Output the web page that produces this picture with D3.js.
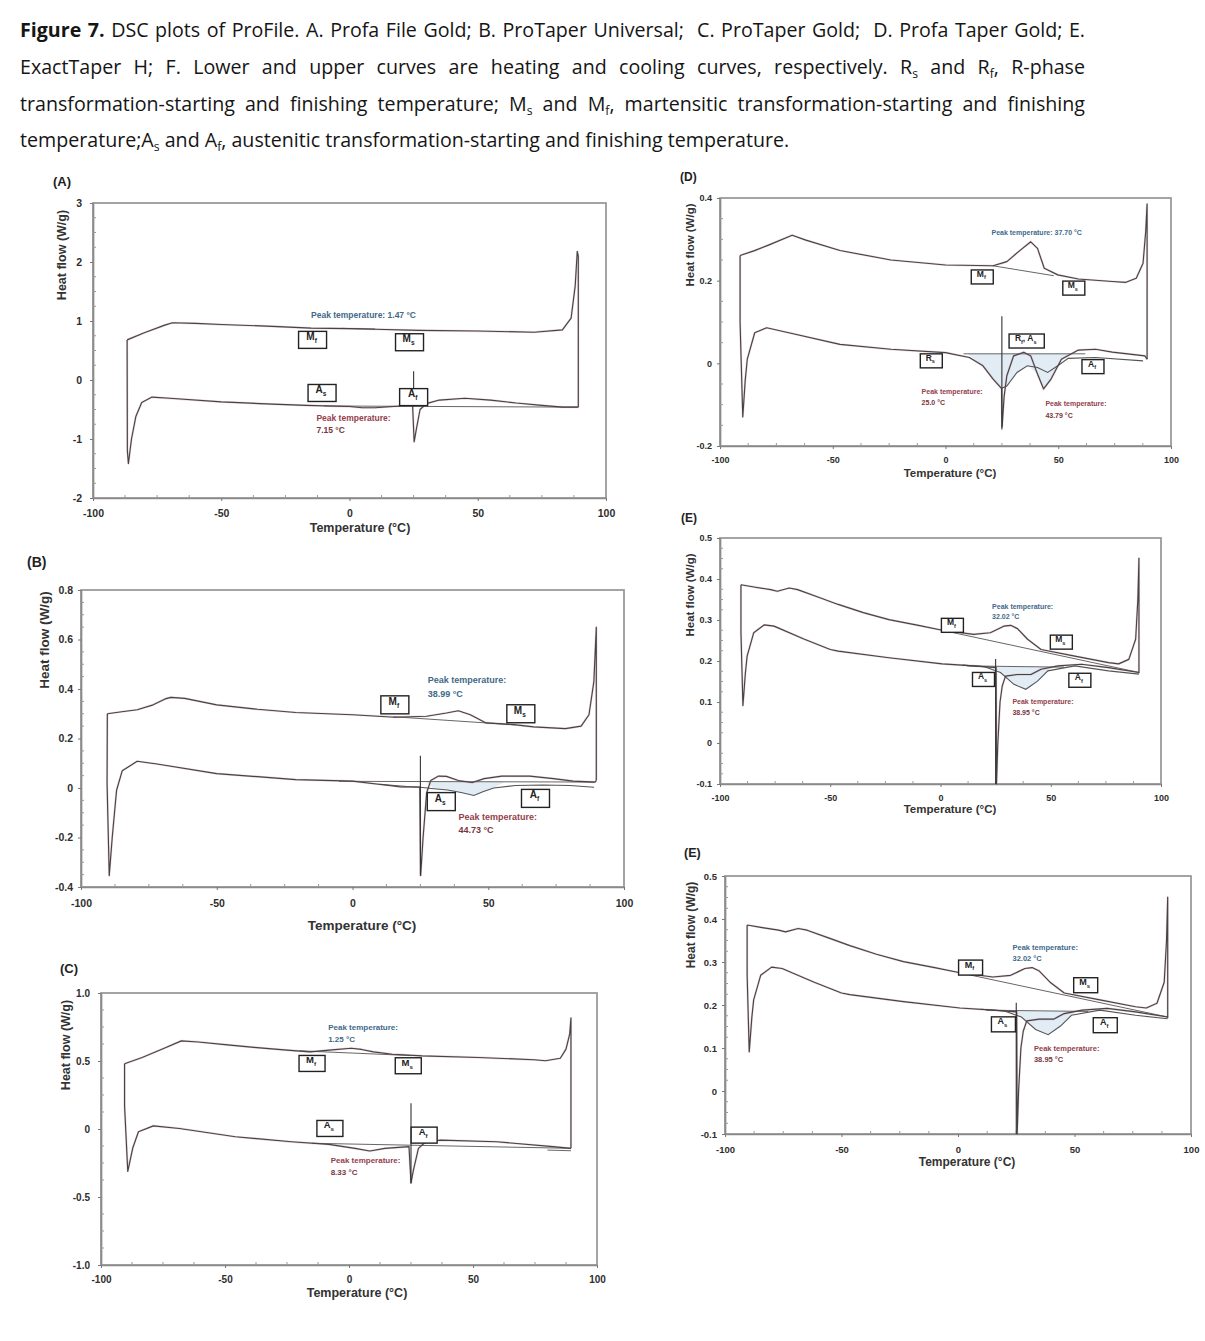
<!DOCTYPE html>
<html><head><meta charset="utf-8">
<script src="https://cdn.jsdelivr.net/npm/d3@7"></script>
<style>
html,body{margin:0;padding:0;background:#fff;}
body{width:1205px;height:1341px;position:relative;overflow:hidden;}
.cap{position:absolute;left:20px;font-family:"Open Sans",sans-serif;color:#151515;line-height:22px;white-space:nowrap;z-index:2;}
.cap.j{width:1065px;text-align:justify;text-align-last:justify;}
.cap sub{font-size:0.62em;vertical-align:-0.3em;line-height:0;}
svg{position:absolute;left:0;top:0;z-index:1;}
</style></head><body>
<svg id="fig" width="1205" height="1341"></svg>
<script>
// ---------------- caption ----------------
const captionLines = [
  '<b>Figure 7.</b> DSC plots of ProFile. A. Profa File Gold; B. ProTaper Universal;&nbsp; C. ProTaper Gold;&nbsp; D. Profa Taper Gold; E.',
  'ExactTaper H; F. Lower and upper curves are heating and cooling curves, respectively. R<sub>s</sub> and R<sub>f</sub>, R-phase',
  'transformation-starting and finishing temperature; M<sub>s</sub> and M<sub>f</sub>, martensitic transformation-starting and finishing',
  'temperature;A<sub>s</sub> and A<sub>f</sub>, austenitic transformation-starting and finishing temperature.'
];

// ---------------- tick values ----------------
const xTicks = [-100, -50, 0, 50, 100];
const A_yTicks = [-2, -1, 0, 1, 2, 3];
const B_yTicks = [-0.4, -0.2, 0, 0.2, 0.4, 0.6, 0.8];
const C_yTicks = [-1.0, -0.5, 0, 0.5, 1.0];
const D_yTicks = [-0.2, 0, 0.2, 0.4];
const E_yTicks = [-0.1, 0, 0.1, 0.2, 0.3, 0.4, 0.5];

// ---------------- Panel A: Profa File Gold ----------------
const A_cool = [[-86.7,0.68],[-80,0.8],[-72,0.93],[-69,0.97],[-60,0.96],[-50,0.94],[-30,0.91],[-15,0.88],[0,0.87],[10,0.86],[27,0.84],[50,0.83],[72,0.81],[83,0.85],[86.4,1.05],[88,1.6],[88.8,2.18],[89.2,2.1],[89.2,-0.46]];
const A_heat = [[-86.7,0.68],[-86.6,-1.2],[-86.2,-1.42],[-85,-1.0],[-83.3,-0.62],[-81,-0.38],[-77,-0.29],[-70,-0.31],[-50,-0.37],[-30,-0.41],[-17,-0.43],[0,-0.45],[5,-0.47],[10,-0.47],[20,-0.44],[24.6,-0.43],[25.2,-1.05],[26,-0.85],[27.5,-0.5],[30,-0.4],[35,-0.34],[45,-0.31],[55,-0.34],[65,-0.39],[75,-0.43],[83,-0.46],[89.2,-0.46]];
const A_heat2 = [];
const A_base = [[[-10,-0.44],[89,-0.46]],[[-3,0.875],[10,0.865]]];
const A_shade = [];
const A_cursor = [25, 0.15, -0.45];
const A_boxes = [{seg:[["M","f"]],x:-14.4,y:0.68},{seg:[["M","s"]],x:23.4,y:0.64},{seg:[["A","s"]],x:-10.7,y:-0.22},{seg:[["A","f"]],x:25,y:-0.29}];
const A_notes = [{t:["Peak temperature: 1.47 °C"],x:-15,y:[1.1],c:"blue"},{t:["Peak temperature:","7.15 °C"],x:-12.9,y:[-0.64,-0.84],c:"red"}];

// ---------------- Panel B: ProTaper Universal ----------------
const B_cool = [[-90.3,0.30],[-85,0.308],[-79.3,0.316],[-73.4,0.336],[-69,0.36],[-66.9,0.366],[-61.8,0.362],[-50,0.336],[-35,0.318],[-20.9,0.305],[0,0.296],[15.6,0.286],[27.3,0.29],[34.6,0.303],[39,0.312],[43.4,0.296],[49.2,0.263],[59.4,0.256],[66.7,0.247],[78.4,0.24],[84.2,0.25],[87.1,0.296],[88.9,0.43],[89.8,0.65],[89.8,0.03]];
const B_heat = [[-90.3,0.30],[-90.4,0.02],[-89.6,-0.354],[-88.5,-0.2],[-86.9,-0.009],[-84.8,0.07],[-79.3,0.108],[-72,0.097],[-50,0.058],[-20.9,0.034],[0,0.028],[12.7,0.011],[17.8,0.004],[24.8,0.004],[25.1,-0.354],[26,-0.2],[27.3,-0.02],[28.8,0.03],[31.7,0.048],[34.6,0.047],[39,0.03],[44.1,0.022],[48.5,0.038],[55,0.048],[65.3,0.048],[74,0.038],[81.3,0.028],[89.3,0.024],[89.8,0.03]];
const B_heat2 = [[10,0.015],[20,0.006],[25,0.003],[30,-0.003],[35,-0.008],[40,-0.018],[44.7,-0.03],[48,-0.015],[52,0.0],[60,0.01],[70,0.012],[80,0.01],[89,0.003]];
const B_base = [[[15,0.288],[60,0.255]],[[-5,0.027],[89,0.024]]];
const B_shade = [[27,0.025],[30,-0.003],[35,-0.008],[40,-0.018],[44.7,-0.03],[48,-0.015],[52,0.0],[56,0.024]];
const B_cursor = [25, 0.13, -0.354];
const B_boxes = [{seg:[["M","f"]],x:15.6,y:0.336},{seg:[["M","s"]],x:62,y:0.30},{seg:[["A","s"]],x:32.7,y:-0.055},{seg:[["A","f"]],x:67.4,y:-0.042}];
const B_notes = [{t:["Peak temperature:","38.99 °C"],x:27.7,y:[0.435,0.382],c:"blue"},{t:["Peak temperature:","44.73 °C"],x:39,y:[-0.115,-0.168],c:"red"}];

// ---------------- Panel C: ProTaper Gold ----------------
const C_cool = [[-90.5,0.48],[-83.4,0.526],[-75,0.59],[-67.6,0.648],[-60.8,0.64],[-50,0.62],[-38.3,0.6],[-25,0.58],[-15.7,0.567],[-8,0.58],[0.9,0.594],[5,0.585],[9.9,0.567],[17.5,0.55],[29.5,0.538],[52,0.526],[74.7,0.509],[79.2,0.502],[85.2,0.52],[87.5,0.587],[89,0.7],[89.5,0.818],[89.5,-0.142]];
const C_heat = [[-90.5,0.48],[-90.5,0.17],[-89.2,-0.312],[-87.2,-0.14],[-84.9,-0.02],[-78.9,0.023],[-68.4,0.004],[-45.8,-0.057],[-23.2,-0.094],[-8.1,-0.113],[2.4,-0.142],[8.4,-0.162],[14.5,-0.142],[24.2,-0.13],[25,-0.397],[26,-0.3],[28,-0.142],[31,-0.094],[37,-0.082],[59.6,-0.094],[82.2,-0.13],[89.5,-0.142]];
const C_heat2 = [];
const C_base = [[[-20,0.575],[25,0.54]],[[-15,-0.105],[89.5,-0.142]],[[80,-0.155],[89.5,-0.16]]];
const C_shade = [];
const C_cursor = [25, 0.19, -0.40];
const C_boxes = [{seg:[["M","f"]],x:-14.9,y:0.482},{seg:[["M","s"]],x:23.9,y:0.465},{seg:[["A","s"]],x:-7.7,y:0.004},{seg:[["A","f"]],x:30.3,y:-0.045}];
const C_notes = [{t:["Peak temperature:","1.25 °C"],x:-8.4,y:[0.752,0.66],c:"blue"},{t:["Peak temperature:","8.33 °C"],x:-7.4,y:[-0.227,-0.317],c:"red"}];

// ---------------- Panel D: Profa Taper Gold ----------------
const D_cool = [[-91.1,0.261],[-85,0.272],[-78.5,0.286],[-68,0.31],[-61.9,0.298],[-46.8,0.273],[-24.2,0.25],[0,0.238],[21.1,0.236],[27.2,0.246],[33.2,0.274],[37.8,0.294],[40.8,0.278],[43.8,0.23],[49.8,0.214],[58.9,0.204],[74,0.198],[80,0.196],[84.6,0.206],[87.6,0.242],[88.8,0.32],[89.4,0.386],[89.4,0.01]];
const D_heat = [[-91.1,0.261],[-91.1,0.1],[-89.9,-0.13],[-88.8,-0.04],[-87.9,0.01],[-84.6,0.074],[-79.3,0.086],[-69.5,0.074],[-46.8,0.046],[-24.2,0.034],[0,0.026],[10.6,0.014],[16.6,-0.006],[21.1,-0.038],[24.9,-0.061],[25.1,-0.154],[26,-0.08],[27.2,-0.03],[30.2,0.018],[34.7,0.027],[37.8,0.018],[40.8,-0.026],[43.5,-0.062],[46.8,-0.038],[51.4,0.01],[58.9,0.032],[66.5,0.034],[74,0.027],[88.4,0.018],[89.4,0.01]];
const D_heat2 = [[25,-0.06],[27.2,-0.055],[31.7,-0.022],[36.3,-0.006],[40.8,-0.01],[45.3,-0.022],[49.8,-0.006],[54.4,0.012],[66.5,0.014],[87.6,0.006]];
const D_base = [[[21,0.236],[48,0.212]],[[8,0.023],[62,0.023]]];
const D_shade = [[10,0.022],[16.6,-0.006],[21.1,-0.038],[24.9,-0.061],[27.2,-0.055],[31.7,-0.022],[36.3,-0.006],[40.8,-0.026],[43.5,-0.062],[46.8,-0.038],[51.4,0.01],[55,0.022]];
const D_cursor = [25, 0.114, -0.16];
const D_boxes = [{seg:[["M","f"]],x:16.3,y:0.209},{seg:[["M","s"]],x:56.9,y:0.182},{seg:[["R","s"]],x:-6.3,y:0.006},{seg:[["R","f"],[", A","s"]],x:36,y:0.054,w:1.6},{seg:[["A","f"]],x:65.4,y:-0.008}];
const D_notes = [{t:["Peak temperature: 37.70 °C"],x:20.4,y:[0.317],c:"blue"},{t:["Peak temperature:","25.0 °C"],x:-10.6,y:[-0.068,-0.096],c:"red"},{t:["Peak temperature:","43.79 °C"],x:44.3,y:[-0.098,-0.126],c:"red"}];

// ---------------- Panel E: ExactTaper ----------------
const E_cool = [[-90.5,0.386],[-84,0.38],[-77,0.374],[-74,0.37],[-68.6,0.378],[-64.8,0.374],[-55,0.355],[-46.4,0.338],[-35,0.318],[-23.4,0.301],[-10,0.287],[0.8,0.275],[15,0.265],[22.6,0.269],[28.7,0.285],[31.8,0.287],[34.9,0.279],[39.5,0.253],[45.6,0.228],[60.9,0.212],[76.2,0.196],[80.8,0.193],[85.4,0.204],[88.5,0.253],[89.5,0.35],[90,0.451],[90,0.17]];
const E_heat = [[-90.5,0.386],[-90.5,0.27],[-89.6,0.091],[-88.5,0.17],[-87.7,0.212],[-84.7,0.269],[-80,0.288],[-75.5,0.285],[-61.7,0.253],[-50,0.228],[-46.4,0.224],[-23.4,0.208],[0.8,0.193],[15,0.188],[25.2,0.184],[25.4,-0.1],[26,0.0],[27,0.1],[28,0.139],[29.5,0.163],[34.9,0.167],[41,0.167],[45.6,0.18],[53.3,0.188],[64,0.192],[76.2,0.184],[90,0.172]];
const E_heat2 = [[10,0.19],[20,0.186],[27.2,0.172],[33.3,0.143],[38.7,0.131],[44,0.151],[48.7,0.176],[60.9,0.188],[76.2,0.176],[90,0.168]];
const E_base = [[[5,0.27],[90,0.172]],[[12,0.188],[56,0.185]]];
const E_shade = [[24,0.186],[27.2,0.172],[33.3,0.143],[38.7,0.131],[44,0.151],[48.7,0.176],[51,0.186]];
const E_cursor = [25, 0.205, -0.1];
const E_boxes = [{seg:[["M","f"]],x:5.4,y:0.287},{seg:[["M","s"]],x:54.8,y:0.246},{seg:[["A","s"]],x:19.5,y:0.155},{seg:[["A","f"]],x:63.2,y:0.153}];
const E_notes = [{t:["Peak temperature:","32.02 °C"],x:23.4,y:[0.334,0.308],c:"blue"},{t:["Peak temperature:","38.95 °C"],x:32.6,y:[0.1,0.074],c:"red"}];

// ---------------- layout (positions / styles only) ----------------
const panels = [
  {id:"(A)", left:93, right:606, top:203, bottom:498, yDom:[-2,3], yTicks:A_yTicks, dec:0,
   lab:[53,186], yt:[62,255], xt:[360,532], tick:10.5, title:12.5, ann:8.5, bfs:10, bw:28, bh:17, xPad:9, yPad:8,
   cool:A_cool, heat:A_heat, heat2:A_heat2, base:A_base, shade:A_shade, shadeY:0, cursor:A_cursor, boxes:A_boxes, notes:A_notes},
  {id:"(B)", left:81, right:624, top:590, bottom:887, yDom:[-0.4,0.8], yTicks:B_yTicks, dec:1,
   lab:[27,567], yt:[44,640], xt:[362,930], tick:10.5, title:13.5, ann:9, bfs:10, bw:28, bh:18, xPad:10, yPad:5,
   cool:B_cool, heat:B_heat, heat2:B_heat2, base:B_base, shade:B_shade, shadeY:0.025, cursor:B_cursor, boxes:B_boxes, notes:B_notes},
  {id:"(C)", left:101, right:597, top:993, bottom:1265, yDom:[-1,1], yTicks:C_yTicks, dec:1,
   lab:[60,973], yt:[66,1045], xt:[357,1297], tick:10, title:12.5, ann:8, bfs:9.5, bw:26, bh:16, xPad:8, yPad:8,
   cool:C_cool, heat:C_heat, heat2:C_heat2, base:C_base, shade:C_shade, shadeY:0, cursor:C_cursor, boxes:C_boxes, notes:C_notes},
  {id:"(D)", left:720, right:1171, top:198, bottom:446, yDom:[-0.2,0.4], yTicks:D_yTicks, dec:1,
   lab:[680,181], yt:[690,245], xt:[950,477], tick:9, title:11.5, ann:7, bfs:8.5, bw:22, bh:14, xPad:8, yPad:5,
   cool:D_cool, heat:D_heat, heat2:D_heat2, base:D_base, shade:D_shade, shadeY:0.023, cursor:D_cursor, boxes:D_boxes, notes:D_notes},
  {id:"(E)", left:720, right:1161, top:538, bottom:784, yDom:[-0.1,0.5], yTicks:E_yTicks, dec:1,
   lab:[681,522], yt:[690,595], xt:[950,813], tick:9, title:11.5, ann:7, bfs:8.5, bw:22, bh:14, xPad:8, yPad:5,
   cool:E_cool, heat:E_heat, heat2:E_heat2, base:E_base, shade:E_shade, shadeY:0.186, cursor:E_cursor, boxes:E_boxes, notes:E_notes},
  {id:"(E)", left:725, right:1191, top:876, bottom:1134, yDom:[-0.1,0.5], yTicks:E_yTicks, dec:1,
   lab:[684,857], yt:[691,925], xt:[967,1166], tick:9.5, title:12, ann:7.5, bfs:9, bw:24, bh:15, xPad:9, yPad:5,
   cool:E_cool, heat:E_heat, heat2:E_heat2, base:E_base, shade:E_shade, shadeY:0.186, cursor:E_cursor, boxes:E_boxes, notes:E_notes}
];

// ---------------- caption rendering ----------------
(function(){
  const tops = [19, 56, 93, 129];
  const probe = [];
  captionLines.forEach((h,i)=>{
    const d = document.createElement("div");
    d.className = "cap";
    d.style.fontSize = "17px";
    d.style.top = tops[i] + "px";
    d.innerHTML = h;
    document.body.appendChild(d);
    probe.push(d);
  });
  const w = probe.map(d=>d.getBoundingClientRect().width);
  let fs = 17 * 770 / w[3];
  const maxJ = Math.max(w[0], w[1], w[2]) * fs / 17;
  if (maxJ > 1060) fs = fs * 1060 / maxJ;
  probe.forEach((d,i)=>{
    d.style.fontSize = fs + "px";
    if (i < 3) { d.classList.add("j"); d.style.whiteSpace = "normal"; }
  });
})();

// ---------------- chart rendering ----------------
const svg = d3.select("#fig");
const SANS = "'Liberation Sans', Arial, sans-serif";
const fmtDec = d3.format(".1f");

panels.forEach(p => {
  const g = svg.append("g");
  const x = d3.scaleLinear().domain([-100, 100]).range([p.left, p.right]);
  const y = d3.scaleLinear().domain(p.yDom).range([p.bottom, p.top]);
  const line = d3.line().x(d => x(d[0])).y(d => y(d[1]));

  // shaded transformation area
  if (p.shade.length) {
    const area = d3.area().x(d => x(d[0])).y0(y(p.shadeY)).y1(d => y(d[1]));
    g.append("path").attr("d", area(p.shade)).attr("fill", "#dde9f2").attr("fill-opacity", 0.85);
  }

  // frame
  g.append("rect").attr("x", p.left).attr("y", p.top)
    .attr("width", p.right - p.left).attr("height", p.bottom - p.top)
    .attr("fill", "none").attr("stroke", "#959595").attr("stroke-width", 1.7);

  // axes
  const fmtY = d => (d === 0 ? "0" : (p.dec ? fmtDec(d) : d3.format("d")(d))).replace("\u2212", "-");
  const fmtX = d => d3.format("d")(d).replace("\u2212", "-");
  const ax = g.append("g").attr("transform", `translate(0,${p.bottom})`)
    .call(d3.axisBottom(x).tickValues(xTicks).tickFormat(fmtX).tickSize(3).tickSizeOuter(0).tickPadding(p.xPad));
  const ay = g.append("g").attr("transform", `translate(${p.left},0)`)
    .call(d3.axisLeft(y).tickValues(p.yTicks).tickFormat(fmtY).tickSize(3).tickSizeOuter(0).tickPadding(p.yPad));
  [ax, ay].forEach(a => {
    a.select(".domain").attr("stroke", "#8a8a8a").attr("stroke-width", 1.7);
    a.selectAll(".tick line").attr("stroke", "#777");
    a.selectAll("text").attr("font-family", SANS).attr("font-size", p.tick)
      .attr("font-weight", "bold").attr("fill", "#2e2e2e");
  });

  // minor ticks (inside)
  const xm = d3.range(-100, 100.1, 12.5).filter(v => v % 50 !== 0);
  g.append("g").selectAll("line").data(xm).join("line")
    .attr("x1", d => x(d)).attr("x2", d => x(d))
    .attr("y1", p.bottom).attr("y2", p.bottom - 3).attr("stroke", "#999").attr("stroke-width", 1);
  const step = p.yTicks[1] - p.yTicks[0];
  const ym = [];
  for (let i = 0; i < p.yTicks.length - 1; i++) for (let k = 1; k < 4; k++) ym.push(p.yTicks[i] + step * k / 4);
  g.append("g").selectAll("line").data(ym).join("line")
    .attr("x1", p.left).attr("x2", p.left + 3)
    .attr("y1", d => y(d)).attr("y2", d => y(d)).attr("stroke", "#999").attr("stroke-width", 1);

  // baselines
  p.base.forEach(b => g.append("path").attr("d", line(b)).attr("fill", "none").attr("stroke", "#555").attr("stroke-width", 0.9));

  // faint reddish second trace + main curves
  [p.heat, p.cool].forEach(c => g.append("path").attr("d", line(c)).attr("fill", "none")
    .attr("stroke", "#c0607a").attr("stroke-opacity", 0.25).attr("stroke-width", 2.2));
  if (p.heat2.length) g.append("path").attr("d", line(p.heat2)).attr("fill", "none").attr("stroke", "#555").attr("stroke-width", 1.1);
  [p.heat, p.cool].forEach(c => g.append("path").attr("d", line(c)).attr("fill", "none")
    .attr("stroke", "#444446").attr("stroke-width", 1.15).attr("stroke-linejoin", "round"));

  // cursor line
  g.append("line").attr("x1", x(p.cursor[0])).attr("x2", x(p.cursor[0]))
    .attr("y1", y(p.cursor[1])).attr("y2", y(p.cursor[2])).attr("stroke", "#333").attr("stroke-width", 1.1);

  // annotation boxes
  p.boxes.forEach(b => {
    const cx = x(b.x), cy = y(b.y), w = p.bw * (b.w || 1), h = p.bh;
    g.append("rect").attr("x", cx - w / 2).attr("y", cy - h / 2).attr("width", w).attr("height", h)
      .attr("fill", "#fff").attr("stroke", "#222").attr("stroke-width", 1.4);
    const t = g.append("text").attr("x", cx - 1).attr("y", cy).attr("dy", "0.3em").attr("text-anchor", "middle")
      .attr("font-family", SANS).attr("font-size", p.bfs).attr("font-weight", "bold").attr("fill", "#222");
    b.seg.forEach(([m, s], i) => {
      t.append("tspan").attr("dy", i === 0 ? 0 : -p.bfs * 0.3).text(m);
      t.append("tspan").attr("dy", p.bfs * 0.3).attr("font-size", p.bfs * 0.65).text(s);
    });
  });

  // peak temperature notes
  p.notes.forEach(n => {
    n.t.forEach((s, i) => g.append("text").attr("x", x(n.x)).attr("y", y(n.y[i])).attr("dy", "0.35em")
      .attr("font-family", SANS).attr("font-size", p.ann).attr("font-weight", "bold")
      .attr("fill", n.c === "blue" ? "#3f6a8a" : (i === 0 ? "#94404c" : "#7a3640")).text(s));
  });

  // titles
  g.append("text").attr("x", p.lab[0]).attr("y", p.lab[1]).attr("font-family", SANS)
    .attr("font-size", p.title + 0.5).attr("font-weight", "bold").attr("fill", "#222").text(p.id);
  g.append("text").attr("transform", `translate(${p.yt[0]},${p.yt[1]}) rotate(-90)`).attr("dy", "0.35em")
    .attr("text-anchor", "middle").attr("font-family", SANS).attr("font-size", p.title)
    .attr("font-weight", "bold").attr("fill", "#333").text("Heat flow (W/g)");
  g.append("text").attr("x", p.xt[0]).attr("y", p.xt[1]).attr("text-anchor", "middle")
    .attr("font-family", SANS).attr("font-size", p.title).attr("font-weight", "bold").attr("fill", "#333")
    .text("Temperature (°C)");
});
</script>
</body></html>
